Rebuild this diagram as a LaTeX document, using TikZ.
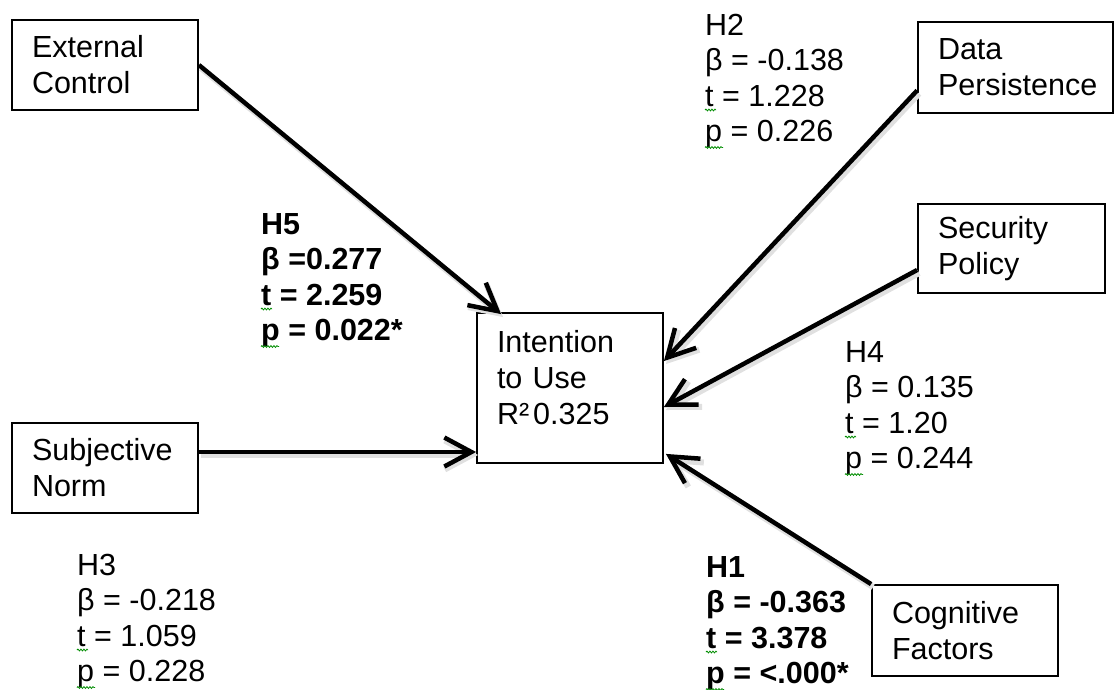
\documentclass[tikz,border=0pt]{standalone}
\usepackage{fontspec}
\setmainfont{Liberation Sans}
\usetikzlibrary{arrows.meta,calc,decorations.pathmorphing}
\begin{document}
\begin{tikzpicture}[x=1pt,y=-1pt,
  box/.style={draw, line width=1.8pt, align=left, inner xsep=20pt, inner ysep=0pt,
    text width=#1, minimum width=#1+40pt, font=\fontsize{30.5}{36}\selectfont},
  lbl/.style={anchor=north west, inner sep=0pt, align=left,
    font=\fontsize{30.5}{35.5}\selectfont},
  lblb/.style={lbl, font=\fontsize{30.5}{35.5}\selectfont\bfseries},
  arr/.style={line width=4.5pt, -{Straight Barb[length=27pt,width=29pt]},
    preaction={draw=black!12, line width=6pt,
      transform canvas={xshift=2pt,yshift=-3pt}}},
  squig/.style={draw=green!55!black, line width=0.8pt, decorate,
    decoration={snake, amplitude=0.9pt, segment length=3pt}}
]
\useasboundingbox (0,0) rectangle (1115,689);

% construct boxes
\node[box=146pt, minimum height=90pt]  (ec)  at (105,65)    {External\\Control};
\node[box=146pt, minimum height=90pt]  (sn)  at (105,468)   {Subjective\\Norm};
\node[box=155pt, minimum height=91pt]  (dp)  at (1015.5,67.5) {Data\\Persistence};
\node[box=147pt, minimum height=89pt]  (sp)  at (1011.5,248.5) {Security\\Policy};
\node[box=146pt, minimum height=91pt]  (cf)  at (965,630.5) {Cognitive\\Factors};
\node[box=146pt, minimum height=150pt] (int) at (570,388)
  {Intention\\to Use\\R²\hspace{4pt}0.325\rule[-22pt]{0pt}{22pt}};

% path coefficients
\node[lblb] (h5) at (261,210) {\rule{0pt}{24pt}H5\\β =0.277\\t = 2.259\\p = 0.022*};
\node[lbl]  (h2) at (705,11)  {\rule{0pt}{24pt}H2\\β = -0.138\\t = 1.228\\p = 0.226};
\node[lbl]  (h4) at (845,338) {\rule{0pt}{24pt}H4\\β = 0.135\\t = 1.20\\p = 0.244};
\node[lbl]  (h3) at (77,551)  {\rule{0pt}{24pt}H3\\β = -0.218\\t = 1.059\\p = 0.228};
\node[lblb] (h1) at (706,553) {\rule{0pt}{24pt}H1\\β = -0.363\\t = 3.378\\p = <.000*};

% spelling marks under t and p
\foreach \L in {h5,h2,h4,h3,h1}{
  \draw[squig] ($(\L.north west)+(0,99)$) -- ++(11,0);
  \draw[squig] ($(\L.north west)+(0,136.5)$) -- ++(18,0);
}

% structural paths
\draw[arr] (ec.east) -- ($(int.north west)+(25,2)$);
\draw[arr] ($(sn.east)+(0,-16)$) coordinate (snout) -- (snout -| int.west);
\draw[arr] ($(dp.west)+(0,23)$) -- ($(int.north east)+(0,49)$);
\draw[arr] ($(sp.west)+(0,21.5)$) -- ($(int.east)+(0,19)$);
\draw[arr] (cf.north west) -- ($(int.south east)+(2,-10)$);
\end{tikzpicture}
\end{document}
